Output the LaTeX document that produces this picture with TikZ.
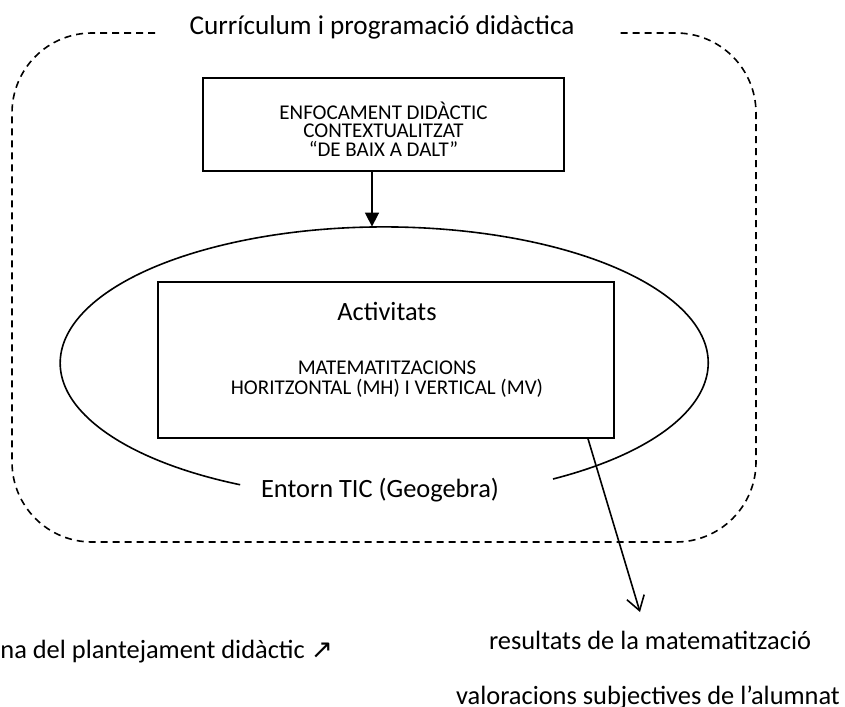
\documentclass[tikz,border=0pt]{standalone}
\usepackage{fontspec}
\setmainfont{Carlito}
\newfontfamily\symfont{DejaVu Sans}
\usetikzlibrary{arrows.meta,shapes.geometric}
\begin{document}
\begin{tikzpicture}[x=0.5pt,y=-0.5pt,
  box/.style={draw,line width=0.8pt,inner sep=0pt},
  frame/.style={line width=0.8pt,dash pattern=on 3.5pt off 2.5pt,rounded corners=40pt},
  conn/.style={line width=0.8pt},
  big/.style={font=\fontsize{13.2}{15}\selectfont},
  caps/.style={align=center},
  low/.style={font=\fontsize{13.2}{15}\selectfont,anchor=base,inner sep=0pt}]
\useasboundingbox (0,0) rectangle (845,706);

% outer dashed frame, open at the top for its title
\draw[frame] (155,33) -- (12,33) -- (12,542) -- (756,542) -- (756,33) -- (616,33);
\node[font=\fontsize{13.6}{15}\selectfont] (title) at (382,27) {Currículum i programació didàctica};

% teaching approach box
\node[box,minimum width=180.5pt,minimum height=46.5pt] (enf) at (383.5,124.5) {};
\node[caps,font=\fontsize{10.5}{9.2}\selectfont] (enftxt) at (383.5,129) {ENFOCAMENT DIDÀCTIC\\CONTEXTUALITZAT\\“DE BAIX A DALT”};

% ICT environment ellipse, broken at the bottom by its label
\node[ellipse,minimum width=324pt,minimum height=136pt,inner sep=0pt] (ell) at (384,363) {};
\draw[conn] (553,479) arc[start angle=-58.6,end angle=243.6,x radius=162pt,y radius=68pt];
\node[big] (entorn) at (380,490) {Entorn TIC (Geogebra)};

% activities box
\node[box,minimum width=228pt,minimum height=78pt] (act) at (386,360) {};
\node[big] (acttitle) at (387,311) {Activitats};
\node[caps,font=\fontsize{10.5}{10}\selectfont] (acttxt) at (387,379) {MATEMATITZACIONS\\HORITZONTAL (MH) I VERTICAL (MV)};

% connectors
\draw[conn,-{Triangle[length=7pt,width=7pt]}] ([xshift=-5.75pt]enf.south) -- ([xshift=-5.75pt]enf.south |- ell.north);
\coordinate (out) at (640,612);
\draw[conn,-{Straight Barb[length=7pt,width=9pt]}] ([xshift=101pt]act.south) -- (out);

% captions below the frame
\node[low,anchor=base west] (plant) at (0,658) {na del plantejament didàctic {\symfont ↗}};
\node[low] (res) at (650,649) {resultats de la matematització};
\node[low] (val) at (648,704) {valoracions subjectives de l’alumnat};
\end{tikzpicture}
\end{document}
